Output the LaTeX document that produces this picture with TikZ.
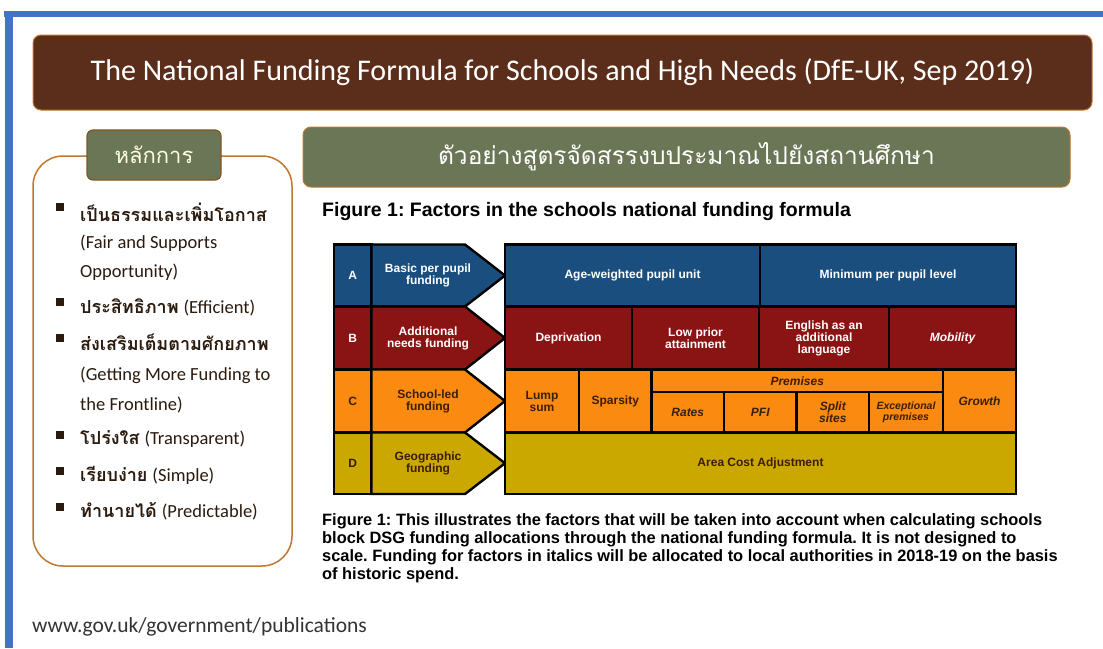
\documentclass[tikz,border=0pt]{standalone}
\usepackage{fontspec}
\setmainfont{Carlito}
\newfontfamily\thaifont[Script=Thai]{Loma}
\newfontfamily\arialfont{Liberation Sans}
\usetikzlibrary{positioning}
\frenchspacing

\definecolor{frameblue}{HTML}{4472C4}
\definecolor{titlebrown}{HTML}{5A2E1A}
\definecolor{edgeorange}{HTML}{C0782E}
\definecolor{headgreen}{HTML}{6A7655}
\definecolor{itemtext}{HTML}{2B1A0E}
\definecolor{rowA}{HTML}{1A4E7E}
\definecolor{rowB}{HTML}{8A1414}
\definecolor{rowC}{HTML}{FB8A10}
\definecolor{rowD}{HTML}{CBA800}
\definecolor{darktext}{HTML}{3A1E05}

\tikzset{
  cell/.style={draw=black,line width=2.4pt,inner sep=0pt,align=center,
    font=\arialfont\bfseries\fontsize{12}{12}\selectfont},
  cellA/.style={cell,fill=rowA,text=white},
  cellB/.style={cell,fill=rowB,text=white},
  cellC/.style={cell,fill=rowC,text=darktext},
  cellD/.style={cell,fill=rowD,text=darktext},
  arrowbox/.style={draw=black,line width=2.4pt},
  item/.style={anchor=west,inner sep=0pt,text=itemtext},
  bulletsq/.style={fill=itemtext,minimum size=7.5pt,inner sep=0pt},
}
\newcommand{\thaibf}[1]{{\thaifont\bfseries\fontsize{18}{22}\selectfont #1}}
\newcommand{\engsmall}[1]{{\fontsize{18.5}{21}\selectfont #1}}

\begin{document}
\begin{tikzpicture}[x=1pt,y=-1pt]
    \useasboundingbox[fill=white] (0,0) rectangle (1103,648);
    % blue frame
    \fill[frameblue] (4,11) rectangle (1103,17);
    \fill[frameblue] (5,11) rectangle (13,648);

    % title bar
    \node[fill=titlebrown,draw=edgeorange,line width=1pt,rounded corners=8pt,
          minimum width=1059pt,minimum height=75pt,text=white,
          font=\fontsize{30}{34}\selectfont] (title) at (562.5,72.5)
          {The National Funding Formula for Schools and High Needs (DfE-UK, Sep 2019)};

    % principles panel
    \node[draw=edgeorange,line width=1.5pt,rounded corners=30pt,
          minimum width=259pt,minimum height=410pt] (panel) at (162.5,361) {};
    \node[fill=headgreen,draw=edgeorange!70!black,line width=1.2pt,rounded corners=6pt,
          minimum width=134pt,minimum height=50pt,text=white!90!yellow,
          font=\thaifont\fontsize{22}{26}\selectfont] (principle) at (154,155) {หลักการ};

    \node[bulletsq] (b1) at (60,207) {};
    \node[item] (fair) at (80,212) {\thaibf{เป็นธรรมและเพิ่มโอกาส}};
    \node[item] (fairen) at (80,243) {\engsmall{(Fair and Supports}};
    \node[item] (fairen2) at (80,272) {\engsmall{Opportunity)}};
    \node[bulletsq] (b2) at (60,302) {};
    \node[item] (effic) at (80,307) {\thaibf{ประสิทธิภาพ}\hspace{5pt}\engsmall{(Efficient)}};
    \node[bulletsq] (b3) at (60,338) {};
    \node[item] (front) at (80,342) {\thaibf{ส่งเสริมเต็มตามศักยภาพ}};
    \node[item] (fronten) at (80,375) {\engsmall{(Getting More Funding to}};
    \node[item] (fronten2) at (80,405) {\engsmall{the Frontline)}};
    \node[bulletsq] (b4) at (60,435) {};
    \node[item] (transp) at (80,439) {\thaibf{โปร่งใส}\hspace{5pt}\engsmall{(Transparent)}};
    \node[bulletsq] (b5) at (60,471) {};
    \node[item] (simple) at (80,475) {\thaibf{เรียบง่าย}\hspace{5pt}\engsmall{(Simple)}};
    \node[bulletsq] (b6) at (60,507) {};
    \node[item] (predict) at (80,511) {\thaibf{ทำนายได้}\hspace{5pt}\engsmall{(Predictable)}};

    % example header
    \node[fill=headgreen,draw=edgeorange,line width=1pt,rounded corners=8pt,
          minimum width=767pt,minimum height=60pt,text=white,
          font=\thaifont\fontsize{24.5}{28}\selectfont] (example) at (686.5,157)
          {ตัวอย่างสูตรจัดสรรงบประมาณไปยังสถานศึกษา};

    \node[anchor=west,inner sep=0pt,font=\arialfont\bfseries\fontsize{19.5}{22}\selectfont]
          (figtitle) at (322,211) {Figure 1: Factors in the schools national funding formula};

    % row labels
    \node[cellA,minimum width=37.5pt,minimum height=62pt] (la) at (352.75,275.5) {A};
    \node[cellB,minimum width=37.5pt,minimum height=63pt] (lb) at (352.75,338) {B};
    \node[cellC,minimum width=37.5pt,minimum height=63pt] (lc) at (352.75,401) {C};
    \node[cellD,minimum width=37.5pt,minimum height=61.5pt] (ld) at (352.75,463.25) {D};

    % arrows
    \filldraw[arrowbox,fill=rowA] (371.5,244.5) -- (465,244.5) -- (505,275.5) -- (465,306.5) -- (371.5,306.5) -- cycle;
    \filldraw[arrowbox,fill=rowB] (371.5,306.5) -- (465,306.5) -- (505,338) -- (465,369.5) -- (371.5,369.5) -- cycle;
    \filldraw[arrowbox,fill=rowC] (371.5,369.5) -- (465,369.5) -- (505,401) -- (465,432.5) -- (371.5,432.5) -- cycle;
    \filldraw[arrowbox,fill=rowD] (371.5,432.5) -- (465,432.5) -- (505,463.25) -- (465,494) -- (371.5,494) -- cycle;
    \node[cellA,draw=none,fill=none] (basic) at (428,275.5) {Basic per pupil\\funding};
    \node[cellB,draw=none,fill=none] (addit) at (428,338) {Additional\\needs funding};
    \node[cellC,draw=none,fill=none] (school) at (428,401) {School-led\\funding};
    \node[cellD,draw=none,fill=none] (geo) at (428,463.25) {Geographic\\funding};

    % row A
    \node[cellA,minimum width=255pt,minimum height=62pt] (age) at (632.5,275.5) {Age-weighted pupil unit};
    \node[cellA,minimum width=256pt,minimum height=62pt] (minimum) at (888,275.5) {Minimum per pupil level};
    % row B
    \node[cellB,minimum width=127pt,minimum height=63pt] (depriv) at (568.5,338) {Deprivation};
    \node[cellB,minimum width=127pt,minimum height=63pt] (lowprior) at (695.5,338) {Low prior\\attainment};
    \node[cellB,minimum width=130pt,minimum height=63pt] (english) at (824,338) {English as an\\additional\\language};
    \node[cellB,minimum width=127pt,minimum height=63pt] (mobility) at (952.5,338) {\itshape Mobility};
    % row C
    \node[cellC,minimum width=74pt,minimum height=63pt] (lump) at (542,401) {Lump\\sum};
    \node[cellC,minimum width=72.5pt,minimum height=63pt] (sparsity) at (615.25,401) {Sparsity};
    \node[cellC,minimum width=291.5pt,minimum height=22.5pt] (premises) at (797.25,380.75) {\itshape Premises};
    \node[cellC,minimum width=72.5pt,minimum height=40.5pt] (rates) at (687.75,412.25) {\itshape Rates};
    \node[cellC,minimum width=72.5pt,minimum height=40.5pt] (pfi) at (760.25,412.25) {\itshape PFI};
    \node[cellC,minimum width=72.5pt,minimum height=40.5pt] (split) at (832.75,412.25) {\itshape Split\\\itshape sites};
    \node[cellC,minimum width=74pt,minimum height=40.5pt,font=\arialfont\bfseries\itshape\fontsize{10.5}{11}\selectfont] (except) at (906,412.25) {Exceptional\\premises};
    \node[cellC,minimum width=73pt,minimum height=63pt] (growth) at (979.5,401) {\itshape Growth};
    % row D
    \node[cellD,minimum width=511pt,minimum height=61.5pt] (area) at (760.5,463.25) {Area Cost Adjustment};

    % caption
    \node[anchor=north west,inner sep=0pt,align=left,
          font=\arialfont\bfseries\fontsize{16.4}{18.3}\selectfont] (caption) at (322,513)
          {Figure 1: This illustrates the factors that will be taken into account when calculating schools\\
           block DSG funding allocations through the national funding formula. It is not designed to\\
           scale. Funding for factors in italics will be allocated to local authorities in 2018-19 on the basis\\
           of historic spend.};

    \node[anchor=west,inner sep=0pt,text=black!80,font=\fontsize{21.5}{24}\selectfont]
          (source) at (32,627) {www.gov.uk/government/publications};
\end{tikzpicture}
\end{document}
